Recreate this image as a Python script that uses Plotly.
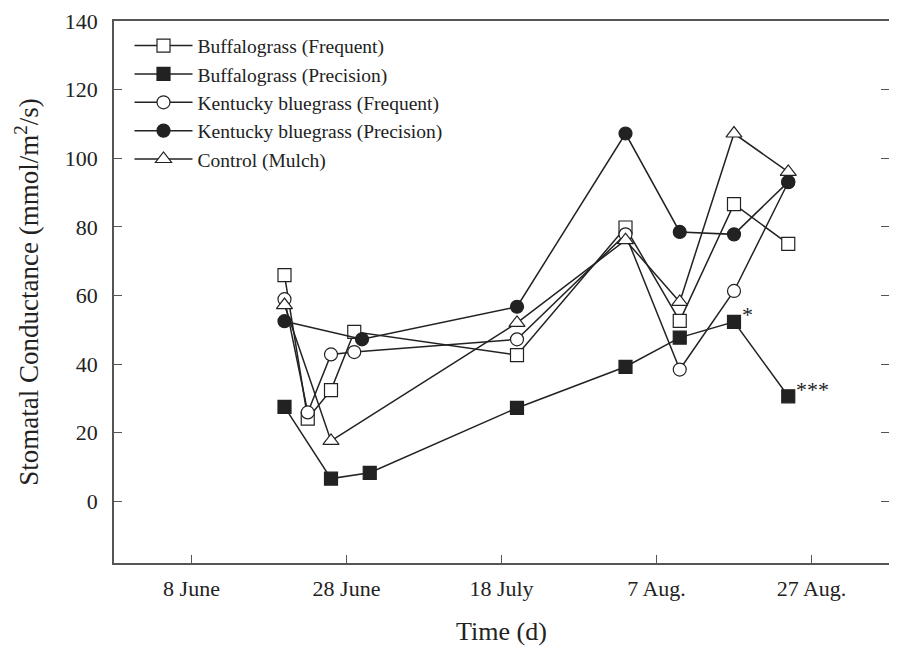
import plotly.graph_objects as go

# ---- data ----
names = ["Buffalograss (Frequent)", "Buffalograss (Precision)",
         "Kentucky bluegrass (Frequent)", "Kentucky bluegrass (Precision)",
         "Control (Mulch)"]

bf_freq_dates = ["2009-06-20", "2009-06-23", "2009-06-26", "2009-06-29", "2009-07-20",
                 "2009-08-03", "2009-08-10", "2009-08-17", "2009-08-24"]
bf_freq_vals = [65.9, 24.1, 32.4, 49.4, 42.6, 79.8, 52.6, 86.6, 75.0]

bf_prec_dates = ["2009-06-20", "2009-06-26", "2009-07-01", "2009-07-20",
                 "2009-08-03", "2009-08-10", "2009-08-17", "2009-08-24"]
bf_prec_vals = [27.5, 6.6, 8.3, 27.2, 39.2, 47.7, 52.3, 30.6]

kb_freq_dates = ["2009-06-20", "2009-06-23", "2009-06-26", "2009-06-29", "2009-07-20",
                 "2009-08-03", "2009-08-10", "2009-08-17", "2009-08-24"]
kb_freq_vals = [58.9, 25.9, 42.8, 43.5, 47.2, 77.8, 38.4, 61.3, 93.0]

kb_prec_dates = ["2009-06-20", "2009-06-30", "2009-07-20",
                 "2009-08-03", "2009-08-10", "2009-08-17", "2009-08-24"]
kb_prec_vals = [52.5, 47.2, 56.7, 107.2, 78.5, 77.8, 93.1]

ctrl_dates = ["2009-06-20", "2009-06-26", "2009-07-20",
              "2009-08-03", "2009-08-10", "2009-08-17", "2009-08-24"]
ctrl_vals = [57.2, 17.6, 52.0, 76.1, 58.1, 107.2, 96.0]

x_tick_vals = ["2009-06-08", "2009-06-28", "2009-07-18", "2009-08-07", "2009-08-27"]
x_tick_text = ["8 June", "28 June", "18 July", "7 Aug.", "27 Aug."]
y_tick_vals = [0, 20, 40, 60, 80, 100, 120, 140]

sig_labels = ["*", "***"]
sig_dates = ["2009-08-17", "2009-08-24"]
sig_vals = [52.3, 30.6]

# ---- styles ----
INK = "#222222"
FONT = "Liberation Serif"

series = [
    (bf_freq_dates, bf_freq_vals, "square", "white"),
    (bf_prec_dates, bf_prec_vals, "square", INK),
    (kb_freq_dates, kb_freq_vals, "circle", "white"),
    (kb_prec_dates, kb_prec_vals, "circle", INK),
    (ctrl_dates, ctrl_vals, "triangle-up", "white"),
]

fig = go.Figure()
for i, ((xs, ys, sym, fill), nm) in enumerate(zip(series, names)):
    fig.add_trace(go.Scatter(
        x=xs, y=ys, name=nm, mode="lines+markers", legendgroup=f"g{i}",
        line=dict(color=INK, width=1.5),
        marker=dict(symbol=sym, size=13 if sym != "triangle-up" else 14,
                    color=fill, line=dict(color=INK, width=1.2)),
    ))

for lab, xd, yv in zip(sig_labels, sig_dates, sig_vals):
    fig.add_annotation(x=xd, y=yv, text=lab, showarrow=False, xanchor="left",
                       xshift=6, yshift=7, font=dict(family=FONT, size=22, color=INK))

axis_common = dict(showline=True, linecolor="#555555", linewidth=1.5, mirror=True,
                   ticks="inside", ticklen=8, tickcolor="#555555", tickwidth=1.2,
                   showgrid=False, zeroline=False, automargin=False,
                   tickfont=dict(family=FONT, size=22, color=INK))

fig.update_xaxes(type="date", range=["2009-05-29", "2009-09-06"],
                 tickmode="array", tickvals=x_tick_vals, ticktext=x_tick_text,
                 ticklabelstandoff=5,
                 title=dict(text="Time (d)", font=dict(family=FONT, size=26, color=INK),
                            standoff=28),
                 **axis_common)
axis_y = dict(axis_common)
axis_y["mirror"] = "ticks"
fig.update_yaxes(range=[-18, 140], tickmode="array", tickvals=y_tick_vals,
                 ticklabelstandoff=10,
                 title=dict(text="Stomatal Conductance (mmol/m<sup>2</sup>/s)",
                            font=dict(family=FONT, size=27, color=INK), standoff=18),
                 **axis_y)

# the page body adds an 8px offset, so the figure is sized to fit the window
fig.update_layout(
    width=889, height=638,
    margin=dict(l=106, r=8, t=13, b=83),
    paper_bgcolor="white", plot_bgcolor="white",
    showlegend=True,
    legend=dict(x=0.02, y=0.99, xanchor="left", yanchor="top",
                bgcolor="rgba(0,0,0,0)", tracegroupgap=0, itemwidth=58,
                font=dict(family=FONT, size=19.5, color=INK)),
)

fig.write_html("out.html")
